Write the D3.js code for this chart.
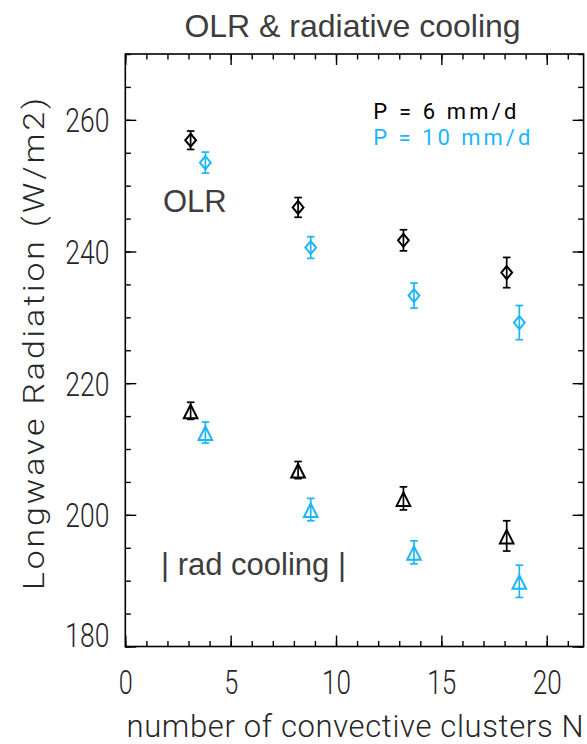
<!DOCTYPE html>
<html>
<head>
<meta charset="utf-8">
<script src="https://cdn.jsdelivr.net/npm/d3@7"></script>
<style>
  html, body { margin: 0; padding: 0; background: #fff; }
  svg { display: block; }
</style>
</head>
<body>
<svg id="chart" width="587" height="744"></svg>
<script>
// Number of convective clusters for each precipitation rate
const clustersP6  = [3.1, 8.2, 13.2, 18.1];
const clustersP10 = [3.8, 8.8, 13.7, 18.7];

// Outgoing longwave radiation (W/m2) and its uncertainty
const olrP6     = [256.9, 246.7, 241.7, 236.8];
const olrP6Err  = [1.4, 1.5, 1.6, 2.3];
const olrP10    = [253.5, 240.6, 233.3, 229.2];
const olrP10Err = [1.6, 1.65, 1.9, 2.6];

// Magnitude of radiative cooling (W/m2) and its uncertainty
const coolP6     = [215.8, 206.8, 202.5, 196.8];
const coolP6Err  = [1.3, 1.3, 1.75, 2.3];
const coolP10    = [212.5, 200.8, 194.3, 189.9];
const coolP10Err = [1.6, 1.7, 1.75, 2.45];

// Axis ticks
const xMajorTicks = [0, 5, 10, 15, 20];
const xMinorTicks = d3.range(0, 22, 1);
const yMajorTicks = [180, 200, 220, 240, 260];
const yMinorTicks = d3.range(180, 271, 5);

const legendLabels = ["P = 6 mm/d", "P = 10 mm/d"];
const colorP6 = "#000000";
const colorP10 = "#1cb6f6";

const svg = d3.select("#chart");
const plotLeft = 125.3, plotRight = 583.6, plotTop = 54, plotBottom = 646.5;

const x = d3.scaleLinear().domain([0, 21.75]).range([plotLeft, plotRight]);
const y = d3.scaleLinear().domain([180, 270]).range([plotBottom, plotTop]);

const tickFont = "Roboto, 'DejaVu Sans', sans-serif";
const textColor = "#262626";

// Frame
svg.append("rect")
  .attr("x", plotLeft).attr("y", plotTop)
  .attr("width", plotRight - plotLeft).attr("height", plotBottom - plotTop)
  .attr("fill", "none").attr("stroke", "#000").attr("stroke-width", 1.6);

function styleAxis(g) {
  g.select(".domain").remove();
  g.selectAll(".tick line").attr("stroke", "#000").attr("stroke-width", 1.4);
}

// Minor ticks on all four sides
svg.append("g").attr("transform", `translate(0,${plotBottom})`)
  .call(d3.axisBottom(x).tickValues(xMinorTicks).tickSize(-5.5).tickFormat(""))
  .call(styleAxis);
svg.append("g").attr("transform", `translate(0,${plotTop})`)
  .call(d3.axisTop(x).tickValues(xMinorTicks).tickSize(-5.5).tickFormat(""))
  .call(styleAxis);
svg.append("g").attr("transform", `translate(${plotLeft},0)`)
  .call(d3.axisLeft(y).tickValues(yMinorTicks).tickSize(-5.5).tickFormat(""))
  .call(styleAxis);
svg.append("g").attr("transform", `translate(${plotRight},0)`)
  .call(d3.axisRight(y).tickValues(yMinorTicks).tickSize(-5.5).tickFormat(""))
  .call(styleAxis);

// Major ticks with labels on bottom and left
const xAxis = svg.append("g").attr("transform", `translate(0,${plotBottom})`)
  .call(d3.axisBottom(x).tickValues(xMajorTicks).tickSize(-11).tickPadding(24).tickFormat(d3.format("d")))
  .call(styleAxis);
svg.append("g").attr("transform", `translate(0,${plotTop})`)
  .call(d3.axisTop(x).tickValues(xMajorTicks).tickSize(-11).tickFormat(""))
  .call(styleAxis);
const yAxis = svg.append("g").attr("transform", `translate(${plotLeft},0)`)
  .call(d3.axisLeft(y).tickValues(yMajorTicks).tickSize(-11).tickPadding(16).tickFormat(d3.format("d")))
  .call(styleAxis);
svg.append("g").attr("transform", `translate(${plotRight},0)`)
  .call(d3.axisRight(y).tickValues(yMajorTicks).tickSize(-11).tickFormat(""))
  .call(styleAxis);

[xAxis, yAxis].forEach(g => {
  g.selectAll(".tick text")
    .attr("font-family", tickFont)
    .attr("font-weight", 300)
    .attr("font-size", 33)
    .attr("fill", textColor)
    .attr("textLength", function() { return this.textContent.length * 15 - 1; })
    .attr("lengthAdjust", "spacingAndGlyphs");
});
// Left labels sit centred on their ticks; the lowest one rests on the bottom edge
yAxis.selectAll(".tick text").attr("dy", d => d === 180 ? "0" : "0.36em");

// Axis titles
svg.append("text")
  .attr("x", 355).attr("y", 736.5)
  .attr("text-anchor", "middle")
  .attr("font-family", tickFont).attr("font-weight", 300).attr("font-size", 31)
  .attr("fill", textColor)
  .attr("textLength", 457).attr("lengthAdjust", "spacing")
  .text("number of convective clusters N");

svg.append("text")
  .attr("transform", "translate(44,342.5) rotate(-90)")
  .attr("text-anchor", "middle")
  .attr("font-family", tickFont).attr("font-weight", 300).attr("font-size", 29)
  .attr("letter-spacing", 2.5)
  .attr("fill", textColor)
  .attr("textLength", 495).attr("lengthAdjust", "spacingAndGlyphs")
  .text("Longwave Radiation (W/m2)");

// Title and annotations
svg.append("text")
  .attr("x", 352.5).attr("y", 37)
  .attr("text-anchor", "middle")
  .attr("font-family", "'Liberation Sans', Arial, sans-serif").attr("font-size", 32)
  .attr("fill", "#3d3d3d")
  .text("OLR & radiative cooling");

svg.append("text")
  .attr("x", 163).attr("y", 211.5)
  .attr("font-family", "'Liberation Sans', Arial, sans-serif").attr("font-size", 31)
  .attr("fill", "#3d3d3d")
  .text("OLR");

svg.append("text")
  .attr("x", 161).attr("y", 574.5)
  .attr("font-family", "'Liberation Sans', Arial, sans-serif").attr("font-size", 31)
  .attr("fill", "#3d3d3d")
  .text("| rad cooling |");

// Legend
const legendWidths = [143, 157];
const legendColors = [colorP6, colorP10];
legendLabels.forEach((lab, i) => {
  svg.append("text")
    .attr("x", 373.3).attr("y", 119.3 + i * 25.7)
    .attr("font-family", tickFont).attr("font-weight", 400).attr("font-size", 22)
    .attr("fill", legendColors[i])
    .attr("textLength", legendWidths[i]).attr("lengthAdjust", "spacing")
    .text(lab);
});

// Soft edge on the plotted symbols
const defs = svg.append("defs");
defs.append("filter").attr("id", "soft")
  .attr("x", "-50%").attr("y", "-50%").attr("width", "200%").attr("height", "200%")
  .append("feGaussianBlur").attr("stdDeviation", 0.45);

const diamondPath = "M0,-6.5 L5.4,0 L0,6.5 L-5.4,0 Z";
const trianglePath = "M0,-6 L6.8,7.5 L-6.8,7.5 Z";

function drawSeries(xs, vals, errs, color, shape) {
  const g = svg.append("g").attr("filter", "url(#soft)");
  const rows = xs.map((cx, i) => ({ cx, v: vals[i], e: errs[i] }));
  const pts = g.selectAll("g.pt").data(rows).join("g").attr("class", "pt");
  pts.append("line")
    .attr("x1", d => x(d.cx)).attr("x2", d => x(d.cx))
    .attr("y1", d => y(d.v - d.e)).attr("y2", d => y(d.v + d.e))
    .attr("stroke", color).attr("stroke-width", 1.7);
  [-1, 1].forEach(s => {
    pts.append("line")
      .attr("x1", d => x(d.cx) - 3.8).attr("x2", d => x(d.cx) + 3.8)
      .attr("y1", d => y(d.v + s * d.e)).attr("y2", d => y(d.v + s * d.e))
      .attr("stroke", color).attr("stroke-width", 1.7);
  });
  pts.append("path")
    .attr("d", shape)
    .attr("transform", d => `translate(${x(d.cx)},${y(d.v)})`)
    .attr("fill", "none").attr("stroke", color).attr("stroke-width", 2);
}

drawSeries(clustersP6, olrP6, olrP6Err, colorP6, diamondPath);
drawSeries(clustersP10, olrP10, olrP10Err, colorP10, diamondPath);
drawSeries(clustersP6, coolP6, coolP6Err, colorP6, trianglePath);
drawSeries(clustersP10, coolP10, coolP10Err, colorP10, trianglePath);
</script>
</body>
</html>
